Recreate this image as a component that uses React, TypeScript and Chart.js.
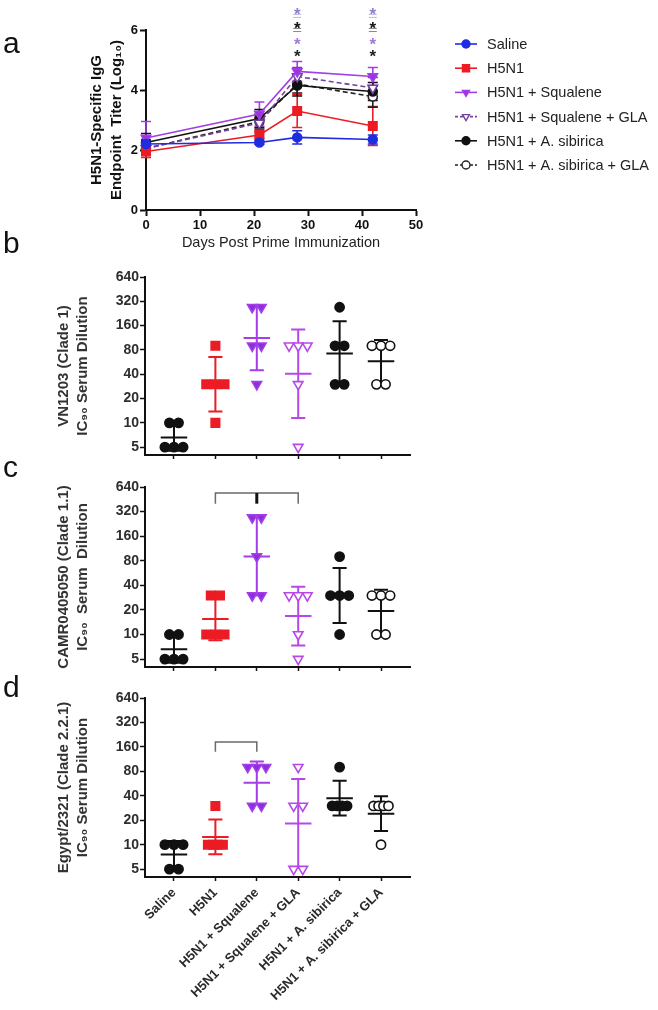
import React, { useEffect, useRef } from 'react';
import { Chart, registerables } from 'chart.js';

Chart.register(...registerables);

const FONT = '"Liberation Sans", Arial, Helvetica, sans-serif';

// ---------- Panel a: H5N1-specific IgG endpoint titer over time ----------
const seriesLabels = [
  'Saline',
  'H5N1',
  'H5N1 + Squalene',
  'H5N1 + Squalene + GLA',
  'H5N1 + A. sibirica',
  'H5N1 + A. sibirica + GLA',
];
const dayValues = [0, 21, 28, 42];
const salineTiter = [2.2, 2.25, 2.42, 2.35];
const salineErr = [0.15, 0.06, 0.22, 0.15];
const h5n1Titer = [1.95, 2.5, 3.3, 2.8];
const h5n1Err = [0.2, 0.1, 0.55, 0.65];
const squaleneTiter = [2.4, 3.2, 4.62, 4.45];
const squaleneErr = [0.55, 0.4, 0.33, 0.3];
const squaleneGlaTiter = [2.05, 2.9, 4.45, 4.07];
const squaleneGlaErr = [0.2, 0.25, 0.3, 0.35];
const sibiricaTiter = [2.25, 3.05, 4.15, 3.95];
const sibiricaErr = [0.3, 0.3, 0.35, 0.3];
const sibiricaGlaTiter = [2.05, 2.95, 4.2, 3.78];
const sibiricaGlaErr = [0.2, 0.25, 0.3, 0.35];
const sigDays = [28, 42];
const sigStarLevels = [6.67, 6.2, 5.67, 5.27];
const sigBarLevels = [6.47, 6.0];

const seriesValues = [salineTiter, h5n1Titer, squaleneTiter, squaleneGlaTiter, sibiricaTiter, sibiricaGlaTiter];
const seriesErrors = [salineErr, h5n1Err, squaleneErr, squaleneGlaErr, sibiricaErr, sibiricaGlaErr];

// ---------- Panels b-d: IC90 serum dilution per mouse ----------
const dilutionTicks = [5, 10, 20, 40, 80, 160, 320, 640];
const vn1203Titers = [
  [10, 10, 5, 5, 5],
  [90, 30, 30, 30, 10],
  [270, 270, 90, 90, 30],
  [90, 90, 90, 30, 5],
  [270, 90, 90, 30, 30],
  [90, 90, 90, 30, 30],
];
const camrTiters = [
  [10, 10, 5, 5, 5],
  [30, 30, 10, 10, 10],
  [270, 270, 90, 30, 30],
  [30, 30, 30, 10, 5],
  [90, 30, 30, 30, 10],
  [30, 30, 30, 10, 10],
];
const egyptTiters = [
  [10, 10, 10, 5, 5],
  [30, 10, 10, 10, 10],
  [90, 90, 90, 30, 30],
  [90, 30, 30, 5, 5],
  [90, 30, 30, 30, 30],
  [30, 30, 30, 30, 10],
];
const camrBracket = { from: 1, to: 3, level: 540, drop: 400, mark: 2 };
const egyptBracket = { from: 1, to: 2, level: 184, drop: 139, mark: -1 };

// ---------- styles ----------
const lineStyles = [
  { color: '#1f2de0', fill: '#1f2de0', shape: 'circle', dash: [] as number[] },
  { color: '#ec1c24', fill: '#ec1c24', shape: 'rect', dash: [] as number[] },
  { color: '#a23ee6', fill: '#9b34e0', shape: 'triangle', dash: [] as number[] },
  { color: '#73429c', fill: '#ffffff', shape: 'triangle', dash: [5, 3] },
  { color: '#111111', fill: '#111111', shape: 'circle', dash: [] as number[] },
  { color: '#222222', fill: '#ffffff', shape: 'circle', dash: [5, 3] },
];
const dotStyles = [
  { color: '#111111', fill: '#111111', shape: 'circle' },
  { color: '#ec1c24', fill: '#ec1c24', shape: 'rect' },
  { color: '#a53ee8', fill: '#8a2fdc', shape: 'triangle' },
  { color: '#b648ea', fill: '#ffffff', shape: 'triangle' },
  { color: '#111111', fill: '#111111', shape: 'circle' },
  { color: '#111111', fill: '#ffffff', shape: 'circle' },
];
const radiusFor = (shape: string) => (shape === 'rect' ? 6 : shape === 'triangle' ? 5.5 : 4.6);
const bold = (size: number, lineHeight = 1.2) => ({ family: FONT, size, weight: 'bold' as const, lineHeight });

function drawShape(ctx: CanvasRenderingContext2D, shape: string, x: number, y: number, r: number, fill: string, stroke: string) {
  ctx.beginPath();
  if (shape === 'circle') {
    ctx.arc(x, y, r, 0, Math.PI * 2);
  } else if (shape === 'rect') {
    const s = r * Math.SQRT1_2;
    ctx.rect(x - s, y - s, 2 * s, 2 * s);
  } else {
    ctx.moveTo(x, y + r);
    ctx.lineTo(x - r * 0.866, y - r / 2);
    ctx.lineTo(x + r * 0.866, y - r / 2);
    ctx.closePath();
  }
  ctx.fillStyle = fill;
  ctx.fill();
  ctx.lineWidth = 1.4;
  ctx.strokeStyle = stroke;
  ctx.setLineDash([]);
  ctx.stroke();
}

// ---------- Panel a plugins ----------
const errorBarsA = {
  id: 'errorBarsA',
  beforeDatasetsDraw(chart: any) {
    const { ctx, scales } = chart;
    const x = scales.x;
    const y = scales.y;
    ctx.save();
    seriesErrors.forEach((errs, di) => {
      const vals = seriesValues[di];
      ctx.strokeStyle = lineStyles[di].color;
      ctx.lineWidth = 1.6;
      ctx.setLineDash([]);
      dayValues.forEach((d, i) => {
        const px = x.getPixelForValue(d);
        const top = y.getPixelForValue(vals[i] + errs[i]);
        const bot = y.getPixelForValue(vals[i] - errs[i]);
        ctx.beginPath();
        ctx.moveTo(px, top);
        ctx.lineTo(px, bot);
        ctx.moveTo(px - 5, top);
        ctx.lineTo(px + 5, top);
        ctx.moveTo(px - 5, bot);
        ctx.lineTo(px + 5, bot);
        ctx.stroke();
      });
    });
    ctx.restore();
  },
};

const sigMarksA = {
  id: 'sigMarksA',
  afterDatasetsDraw(chart: any) {
    const { ctx, scales } = chart;
    const x = scales.x;
    const y = scales.y;
    const starColors = ['#8f7fca', '#111111', '#a07ad6', '#1a2424'];
    const barColors = ['#c4b4e4', '#8a8a8a'];
    ctx.save();
    sigDays.forEach((d) => {
      const px = x.getPixelForValue(d);
      ctx.font = `bold 17px ${FONT}`;
      ctx.textAlign = 'center';
      ctx.textBaseline = 'alphabetic';
      sigStarLevels.forEach((lv, i) => {
        ctx.fillStyle = starColors[i];
        ctx.fillText('*', px, y.getPixelForValue(lv) + 10);
      });
      sigBarLevels.forEach((lv, i) => {
        const py = y.getPixelForValue(lv);
        ctx.strokeStyle = barColors[i];
        ctx.lineWidth = 1;
        ctx.beginPath();
        ctx.moveTo(px - 4, py - 1.5);
        ctx.lineTo(px + 4, py - 1.5);
        ctx.moveTo(px - 4, py + 1.5);
        ctx.lineTo(px + 4, py + 1.5);
        ctx.stroke();
      });
    });
    ctx.restore();
  },
};

const legendA = {
  id: 'legendA',
  afterDraw(chart: any) {
    const { ctx } = chart;
    ctx.save();
    chart.data.datasets.forEach((ds: any, i: number) => {
      const st = lineStyles[i];
      const yy = 44 + 24.2 * i;
      ctx.strokeStyle = st.color;
      ctx.lineWidth = 1.6;
      ctx.setLineDash(st.dash.length ? [3, 2] : []);
      ctx.beginPath();
      ctx.moveTo(455, yy);
      ctx.lineTo(477, yy);
      ctx.stroke();
      drawShape(ctx, st.shape, 466, yy, st.shape === 'rect' ? 5 : 4, st.fill, st.color);
      ctx.fillStyle = '#222222';
      ctx.font = `14.5px ${FONT}`;
      ctx.textAlign = 'left';
      ctx.textBaseline = 'middle';
      ctx.fillText(ds.label, 487, yy + 1);
    });
    ctx.restore();
  },
};

function makeConfigA(): any {
  return {
    type: 'line',
    data: {
      datasets: seriesLabels.map((label, di) => {
        const st = lineStyles[di];
        return {
          label,
          data: dayValues.map((d, i) => ({ x: d, y: seriesValues[di][i] })),
          borderColor: st.color,
          backgroundColor: st.fill,
          borderWidth: 1.6,
          borderDash: st.dash,
          pointStyle: st.shape,
          pointRotation: st.shape === 'triangle' ? 180 : 0,
          pointRadius: st.shape === 'rect' ? 6 : st.shape === 'triangle' ? 5.5 : 4.5,
          pointBackgroundColor: st.fill,
          pointBorderColor: st.color,
          pointBorderWidth: 1.5,
          tension: 0,
          fill: false,
          clip: false,
        };
      }),
    },
    options: {
      responsive: false,
      animation: false,
      layout: { padding: { top: 30, right: 242, left: 0, bottom: 0 } },
      plugins: { legend: { display: false }, tooltip: { enabled: false } },
      scales: {
        x: {
          type: 'linear',
          min: 0,
          max: 50,
          ticks: { stepSize: 10, font: bold(13), color: '#111', padding: 2 },
          grid: { display: true, drawOnChartArea: false, drawTicks: true, tickLength: 6, tickColor: '#111', tickWidth: 2 },
          border: { display: true, color: '#111', width: 2 },
          title: {
            display: true,
            text: 'Days Post Prime Immunization',
            font: { family: FONT, size: 14.5, lineHeight: 1.2 },
            color: '#222',
            padding: { top: 0, bottom: 8 },
          },
          afterFit: (s: any) => {
            s.height = 50;
          },
        },
        y: {
          min: 0,
          max: 6,
          ticks: { stepSize: 2, font: bold(13), color: '#111', padding: 2 },
          grid: { display: true, drawOnChartArea: false, drawTicks: true, tickLength: 6, tickColor: '#111', tickWidth: 2 },
          border: { display: true, color: '#111', width: 2 },
          title: {
            display: true,
            text: ['H5N1-Specific IgG', 'Endpoint  Titer (Log₁₀)'],
            font: bold(15, 20 / 15),
            color: '#111',
            padding: { top: 87, bottom: 0 },
          },
          afterFit: (s: any) => {
            s.width = 146;
          },
        },
      },
    },
    plugins: [errorBarsA, sigMarksA, legendA],
  };
}

// ---------- Panels b-d ----------
function geoStats(vals: number[]) {
  const l = vals.map((v) => Math.log2(v));
  const m = l.reduce((a, b) => a + b, 0) / l.length;
  const sd = Math.sqrt(l.reduce((a, b) => a + (b - m) * (b - m), 0) / (l.length - 1));
  return { mean: 2 ** m, lo: 2 ** (m - sd), hi: 2 ** (m + sd) };
}

function spread(vals: number[], center: number) {
  const counts = new Map<number, number>();
  vals.forEach((v) => counts.set(v, (counts.get(v) || 0) + 1));
  const seen = new Map<number, number>();
  return vals.map((v) => {
    const n = counts.get(v) as number;
    const k = seen.get(v) || 0;
    seen.set(v, k + 1);
    const step = n <= 3 ? 0.22 : 0.12;
    return { x: center + (k - (n - 1) / 2) * step, y: v };
  });
}

function makeIcConfig(
  titers: number[][],
  title: string[],
  padTop: number,
  xHeight: number,
  showLabels: boolean,
  bracket: { from: number; to: number; level: number; drop: number; mark: number } | null
): any {
  const statsPlugin = {
    id: 'meanSd',
    beforeDatasetsDraw(chart: any) {
      const { ctx, scales } = chart;
      const x = scales.x;
      const y = scales.y;
      ctx.save();
      titers.forEach((vals, gi) => {
        const s = geoStats(vals);
        const cx = x.getPixelForValue(gi);
        const half = x.getPixelForValue(gi + 0.32) - cx;
        const cap = x.getPixelForValue(gi + 0.17) - cx;
        const pm = y.getPixelForValue(s.mean);
        const ph = y.getPixelForValue(s.hi);
        const pl = y.getPixelForValue(s.lo);
        ctx.strokeStyle = dotStyles[gi].color;
        ctx.lineWidth = 2;
        ctx.beginPath();
        ctx.moveTo(cx, ph);
        ctx.lineTo(cx, pl);
        ctx.moveTo(cx - cap, ph);
        ctx.lineTo(cx + cap, ph);
        ctx.moveTo(cx - cap, pl);
        ctx.lineTo(cx + cap, pl);
        ctx.moveTo(cx - half, pm);
        ctx.lineTo(cx + half, pm);
        ctx.stroke();
      });
      ctx.restore();
    },
    afterDatasetsDraw(chart: any) {
      if (!bracket) return;
      const { ctx, scales } = chart;
      const x = scales.x;
      const y = scales.y;
      const x1 = x.getPixelForValue(bracket.from);
      const x2 = x.getPixelForValue(bracket.to);
      const yl = y.getPixelForValue(bracket.level);
      const yd = y.getPixelForValue(bracket.drop);
      ctx.save();
      ctx.strokeStyle = '#6a6a6a';
      ctx.lineWidth = 1.5;
      ctx.beginPath();
      ctx.moveTo(x1, yd);
      ctx.lineTo(x1, yl);
      ctx.lineTo(x2, yl);
      ctx.lineTo(x2, yd);
      ctx.stroke();
      if (bracket.mark >= 0) {
        const xm = x.getPixelForValue(bracket.mark);
        ctx.strokeStyle = '#111';
        ctx.lineWidth = 3;
        ctx.beginPath();
        ctx.moveTo(xm, yl);
        ctx.lineTo(xm, yd);
        ctx.stroke();
      }
      ctx.restore();
    },
  };

  return {
    type: 'scatter',
    data: {
      datasets: titers.map((vals, gi) => {
        const st = dotStyles[gi];
        return {
          label: seriesLabels[gi],
          data: spread(vals, gi),
          pointStyle: st.shape,
          rotation: st.shape === 'triangle' ? 180 : 0,
          pointRadius: radiusFor(st.shape),
          backgroundColor: st.fill,
          borderColor: st.color,
          borderWidth: 1.6,
          showLine: false,
          clip: false,
        };
      }),
    },
    options: {
      responsive: false,
      animation: false,
      layout: { padding: { top: padTop, right: 30, left: 0, bottom: 0 } },
      plugins: { legend: { display: false }, tooltip: { enabled: false } },
      scales: {
        x: {
          type: 'linear',
          min: -0.7,
          max: 5.7,
          afterBuildTicks: (s: any) => {
            s.ticks = seriesLabels.map((_, i) => ({ value: i }));
          },
          ticks: {
            autoSkip: false,
            minRotation: showLabels ? 45 : 0,
            maxRotation: showLabels ? 45 : 0,
            font: bold(13),
            color: '#2a2a2a',
            padding: 4,
            callback: (_v: any, i: number) => (showLabels ? seriesLabels[i] : ''),
          },
          grid: { display: true, drawOnChartArea: false, drawTicks: true, tickLength: 4, tickColor: '#111', tickWidth: 1.5 },
          border: { display: true, color: '#111', width: 2 },
          afterFit: (s: any) => {
            s.height = xHeight;
          },
        },
        y: {
          type: 'logarithmic',
          min: 4,
          max: 640,
          afterBuildTicks: (s: any) => {
            s.ticks = dilutionTicks.map((v) => ({ value: v }));
          },
          ticks: {
            autoSkip: false,
            font: bold(14),
            color: '#2e2e2e',
            padding: 1,
            callback: (v: any) => String(v),
          },
          grid: { display: true, drawOnChartArea: false, drawTicks: true, tickLength: 5, tickColor: '#111', tickWidth: 1.5 },
          border: { display: true, color: '#111', width: 2 },
          title: {
            display: true,
            text: title,
            font: bold(15, 19 / 15),
            color: '#333',
            padding: { top: 54.5, bottom: 0 },
          },
          afterFit: (s: any) => {
            s.width = 145;
          },
        },
      },
    },
    plugins: [statsPlugin],
  };
}

function ChartCanvas(props: { make: () => any; left: number; top: number; width: number; height: number }) {
  const ref = useRef<HTMLCanvasElement | null>(null);
  useEffect(() => {
    const chart = new Chart(ref.current as HTMLCanvasElement, props.make());
    return () => chart.destroy();
  }, []);
  return (
    <canvas
      ref={ref}
      width={props.width}
      height={props.height}
      style={{ position: 'absolute', left: props.left, top: props.top, width: props.width, height: props.height }}
    />
  );
}

const letterStyle = (top: number): React.CSSProperties => ({
  position: 'absolute',
  left: 3,
  top,
  fontFamily: FONT,
  fontSize: 30,
  lineHeight: '30px',
  color: '#111',
});

export default function App() {
  return (
    <div style={{ position: 'absolute', left: 0, top: 0, width: 658, height: 1010, background: '#fff', overflow: 'hidden' }}>
      <ChartCanvas make={makeConfigA} left={0} top={0} width={658} height={260} />
      <ChartCanvas
        make={() => makeIcConfig(vn1203Titers, ['VN1203 (Clade 1)', 'IC₉₀ Serum Dilution'], 15, 10, false, null)}
        left={0}
        top={262}
        width={440}
        height={203}
      />
      <ChartCanvas
        make={() => makeIcConfig(camrTiters, ['CAMR0405050 (Clade 1.1)', 'IC₉₀  Serum  Dilution'], 17, 10, false, camrBracket)}
        left={0}
        top={470}
        width={440}
        height={207}
      />
      <ChartCanvas
        make={() => makeIcConfig(egyptTiters, ['Egypt/2321 (Clade 2.2.1)', 'IC₉₀ Serum Dilution'], 16, 133, true, egyptBracket)}
        left={0}
        top={682}
        width={440}
        height={328}
      />
      <div style={letterStyle(27.6)}>a</div>
      <div style={letterStyle(227.6)}>b</div>
      <div style={letterStyle(451.6)}>c</div>
      <div style={letterStyle(671.6)}>d</div>
    </div>
  );
}
